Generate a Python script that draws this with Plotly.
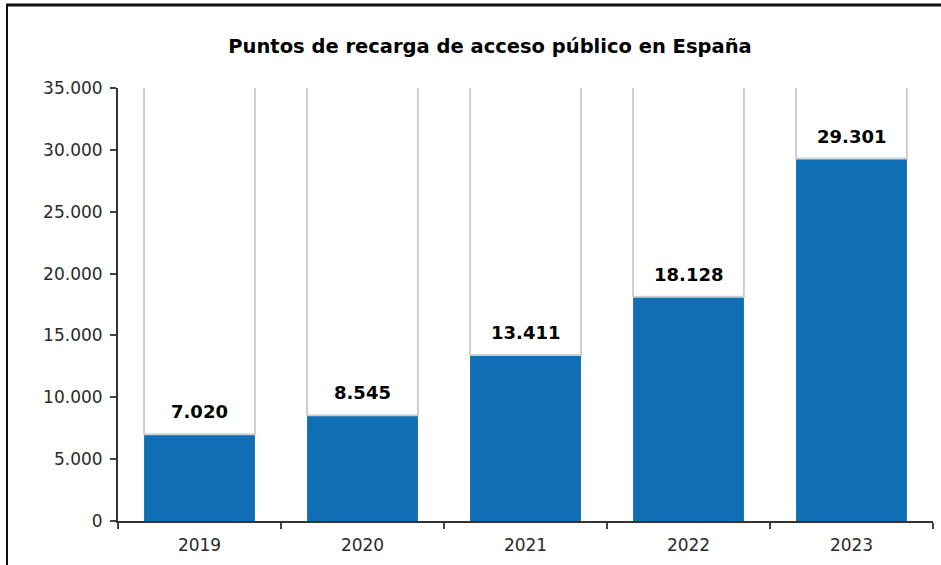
import plotly.graph_objects as go

years = ["2019", "2020", "2021", "2022", "2023"]
values = [7020, 8545, 13411, 18128, 29301]
labels = ["7.020", "8.545", "13.411", "18.128", "29.301"]
y_tickvals = [0, 5000, 10000, 15000, 20000, 25000, 30000, 35000]
y_ticktext = ["0", "5.000", "10.000", "15.000", "20.000", "25.000", "30.000", "35.000"]
y_max = 35000

blue = "#106EB4"

fig = go.Figure()
fig.add_trace(go.Bar(
    x=years, y=values, marker=dict(color=blue, line=dict(width=0)),
    width=0.68, hoverinfo="skip",
))
# white remainder column with grey outline (top edge clipped above axis max)
fig.add_trace(go.Bar(
    x=years, y=[y_max * 1.05 - v for v in values], base=values,
    marker=dict(color="white", line=dict(color="#CFCFCF", width=2)),
    width=0.68, hoverinfo="skip",
))

for i, (v, lab) in enumerate(zip(values, labels)):
    fig.add_annotation(x=i, y=v, xref="x", yref="y", text="<b>%s</b>" % lab,
                       showarrow=False, yanchor="bottom", yshift=10,
                       font=dict(family="DejaVu Sans", size=18, color="#000000"))

fig.update_layout(
    width=941, height=565,
    margin=dict(l=118, r=8, t=88, b=44),
    paper_bgcolor="white", plot_bgcolor="white",
    showlegend=False, barmode="overlay",
    title=dict(text="<b>Puntos de recarga de acceso público en España</b>",
               x=490 / 941, xanchor="center", y=1 - 46 / 565, yanchor="middle",
               font=dict(family="DejaVu Sans", size=19.5, color="#000000")),
    shapes=[
        dict(type="line", xref="paper", yref="paper",
             x0=-112 / 815, x1=1.02, y0=1 + 83 / 433, y1=1 + 83 / 433,
             line=dict(color="#111111", width=3)),
        dict(type="line", xref="paper", yref="paper",
             x0=-111 / 815, x1=-111 / 815, y0=1 + 84 / 433, y1=-0.2,
             line=dict(color="#111111", width=2)),
    ],
)
fig.update_xaxes(
    type="category", tickson="boundaries", ticks="outside", ticklen=6,
    tickwidth=2, tickcolor="#444444", showline=True, linecolor="#333333",
    linewidth=2, showgrid=False, range=[-0.5, 4.5], ticklabelstandoff=8,
    tickfont=dict(family="DejaVu Sans", size=17, color="#2A2A2A"),
)
fig.update_yaxes(
    range=[0, y_max], tickvals=y_tickvals, ticktext=y_ticktext,
    ticks="outside", ticklen=6, tickwidth=2, tickcolor="#444444",
    showline=True, linecolor="#333333", linewidth=2, showgrid=False,
    zeroline=False, ticklabelstandoff=4,
    tickfont=dict(family="DejaVu Sans", size=17, color="#2A2A2A"),
)

fig.write_html("out.html", config={"displayModeBar": False},
               post_script="document.body.style.margin='0';")
